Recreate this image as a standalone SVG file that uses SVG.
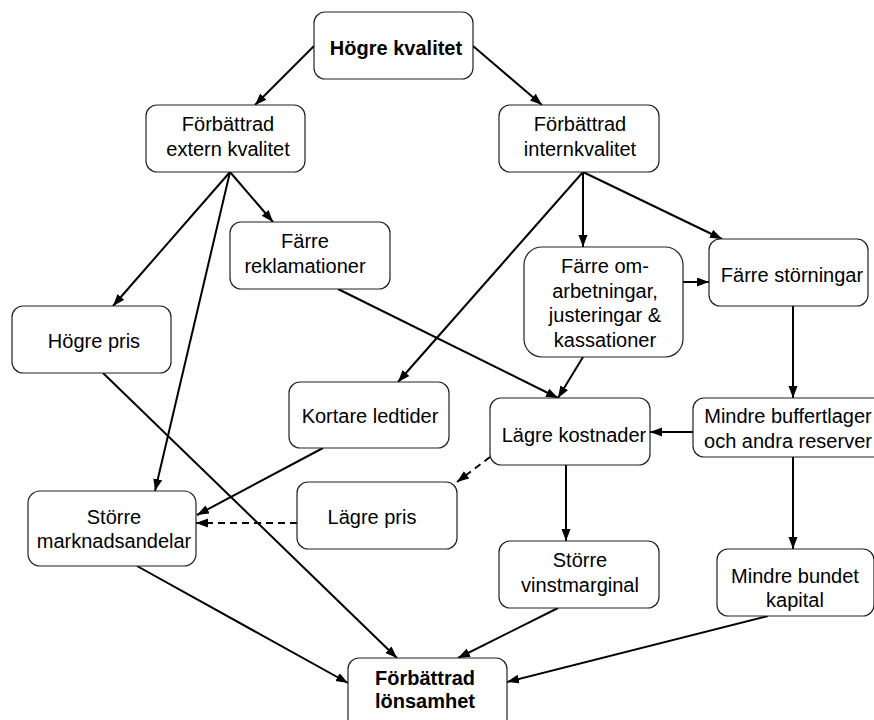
<svg xmlns="http://www.w3.org/2000/svg" width="874" height="720" viewBox="0 0 874 720">
  <defs>
    <marker id="arrow" markerUnits="userSpaceOnUse" markerWidth="13" markerHeight="10" refX="12" refY="4.5" orient="auto">
      <path d="M0,0 L12,4.5 L0,9 z" fill="#000"/>
    </marker>
    <style>
      .box { fill: #fff; stroke: #222; stroke-width: 1.2; }
      .lbl { font-family: "Liberation Sans", Arial, sans-serif; font-size: 20px; fill: #000; text-anchor: middle; }
      .bold { font-weight: bold; }
      .edge { fill: none; stroke: #000; stroke-width: 2; marker-end: url(#arrow); }
      .dash { stroke-dasharray: 7 5; }
    </style>
  </defs>
  <rect width="874" height="720" fill="#fff"/>

  <!-- connectors -->
  <g id="connectors">
    <line class="edge" x1="314" y1="46" x2="255" y2="105"/>
    <line class="edge" x1="473" y1="46" x2="542" y2="105"/>
    <line class="edge" x1="230" y1="172" x2="273" y2="222"/>
    <line class="edge" x1="230" y1="172" x2="113" y2="306"/>
    <line class="edge" x1="230" y1="172" x2="155" y2="491"/>
    <line class="edge" x1="583" y1="172" x2="583" y2="247"/>
    <line class="edge" x1="583" y1="172" x2="722" y2="239"/>
    <line class="edge" x1="583" y1="172" x2="398" y2="382"/>
    <line class="edge" x1="683" y1="282" x2="709" y2="282"/>
    <line class="edge" x1="583" y1="357" x2="558" y2="398"/>
    <line class="edge" x1="338" y1="289" x2="558" y2="398"/>
    <line class="edge" x1="793" y1="306" x2="793" y2="398"/>
    <line class="edge" x1="693" y1="432" x2="650" y2="432"/>
    <line class="edge" x1="793" y1="457" x2="793" y2="549"/>
    <line class="edge" x1="566" y1="465" x2="566" y2="541"/>
    <line class="edge dash" x1="490" y1="457" x2="457" y2="482"/>
    <line class="edge dash" x1="297" y1="523" x2="196" y2="523"/>
    <line class="edge" x1="323" y1="448" x2="197" y2="515"/>
    <line class="edge" x1="103" y1="373" x2="397" y2="658"/>
    <line class="edge" x1="137" y1="566" x2="348" y2="683"/>
    <line class="edge" x1="558" y1="608" x2="458" y2="658"/>
    <line class="edge" x1="768" y1="616" x2="507" y2="682"/>
  </g>

  <!-- nodes -->
  <g id="hogre-kvalitet">
    <rect class="box" x="314" y="12" width="159" height="67" rx="11"/>
    <text class="lbl bold" x="396" y="55">Högre kvalitet</text>
  </g>
  <g id="extern-kvalitet">
    <rect class="box" x="146" y="105" width="159" height="67" rx="11"/>
    <text class="lbl" x="228" y="131">Förbättrad</text>
    <text class="lbl" x="228" y="156">extern kvalitet</text>
  </g>
  <g id="intern-kvalitet">
    <rect class="box" x="499" y="105" width="160" height="67" rx="11"/>
    <text class="lbl" x="580" y="131">Förbättrad</text>
    <text class="lbl" x="580" y="156">internkvalitet</text>
  </g>
  <g id="farre-reklamationer">
    <rect class="box" x="230" y="222" width="160" height="67" rx="11"/>
    <text class="lbl" x="305" y="248">Färre</text>
    <text class="lbl" x="305" y="273">reklamationer</text>
  </g>
  <g id="hogre-pris">
    <rect class="box" x="12" y="306" width="159" height="67" rx="11"/>
    <text class="lbl" x="94" y="348">Högre pris</text>
  </g>
  <g id="kortare-ledtider">
    <rect class="box" x="289" y="382" width="160" height="66" rx="11"/>
    <text class="lbl" x="370" y="423">Kortare ledtider</text>
  </g>
  <g id="farre-omarbetningar">
    <rect class="box" x="524" y="247" width="159" height="110" rx="18"/>
    <text class="lbl" x="605" y="273">Färre om-</text>
    <text class="lbl" x="605" y="298">arbetningar,</text>
    <text class="lbl" x="605" y="322">justeringar &amp;</text>
    <text class="lbl" x="605" y="347">kassationer</text>
  </g>
  <g id="farre-storningar">
    <rect class="box" x="709" y="239" width="159" height="67" rx="11"/>
    <text class="lbl" x="792" y="282">Färre störningar</text>
  </g>
  <g id="lagre-kostnader">
    <rect class="box" x="490" y="398" width="160" height="67" rx="11"/>
    <text class="lbl" x="574" y="442">Lägre kostnader</text>
  </g>
  <g id="mindre-buffertlager">
    <rect class="box" x="693" y="398" width="192" height="59" rx="11"/>
    <text class="lbl" x="788" y="423">Mindre buffertlager</text>
    <text class="lbl" x="788" y="448">och andra reserver</text>
  </g>
  <g id="storre-marknadsandelar">
    <rect class="box" x="28" y="491" width="168" height="75" rx="12"/>
    <text class="lbl" x="114" y="524">Större</text>
    <text class="lbl" x="114" y="548">marknadsandelar</text>
  </g>
  <g id="lagre-pris">
    <rect class="box" x="297" y="482" width="160" height="67" rx="11"/>
    <text class="lbl" x="372" y="524">Lägre pris</text>
  </g>
  <g id="storre-vinstmarginal">
    <rect class="box" x="499" y="541" width="160" height="67" rx="11"/>
    <text class="lbl" x="580" y="567">Större</text>
    <text class="lbl" x="580" y="592">vinstmarginal</text>
  </g>
  <g id="mindre-bundet-kapital">
    <rect class="box" x="717" y="549" width="157" height="67" rx="11"/>
    <text class="lbl" x="795" y="583">Mindre bundet</text>
    <text class="lbl" x="795" y="607">kapital</text>
  </g>
  <g id="forbattrad-lonsamhet">
    <rect class="box" x="348" y="658" width="159" height="72" rx="11"/>
    <text class="lbl bold" x="425" y="685">Förbättrad</text>
    <text class="lbl bold" x="425" y="708">lönsamhet</text>
  </g>
</svg>
